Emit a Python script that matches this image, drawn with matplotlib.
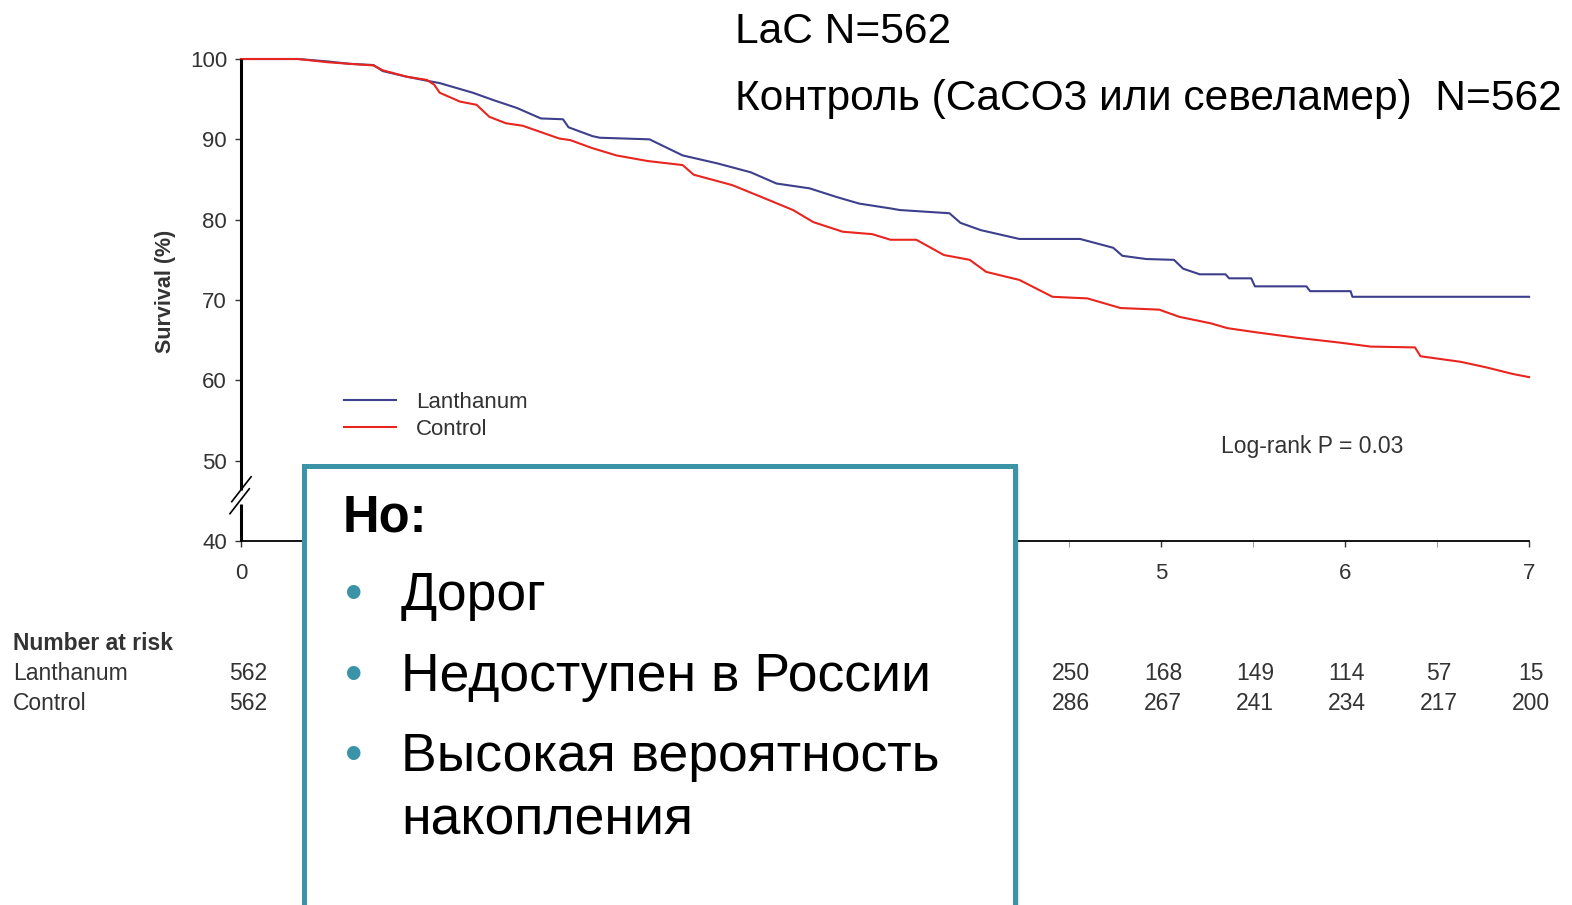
import matplotlib
matplotlib.use("Agg")
import matplotlib.pyplot as plt
from matplotlib.patches import Rectangle
from matplotlib.transforms import blended_transform_factory

plt.rcParams['font.family'] = ['Liberation Sans', 'DejaVu Sans']

# Kaplan-Meier curves (years, survival %)
lan_t = [0, 0.31, 0.47, 0.59, 0.72, 0.77, 0.90, 1.01, 1.08, 1.26, 1.37, 1.50, 1.63, 1.75,
         1.78, 1.91, 1.95, 2.22, 2.40, 2.59, 2.77, 2.91, 3.09, 3.24, 3.36, 3.53, 3.58, 3.85,
         3.91, 4.02, 4.23, 4.56, 4.74, 4.79, 4.92, 5.07, 5.12, 5.21, 5.35, 5.37, 5.49, 5.51,
         5.79, 5.81, 6.03, 6.04, 7.0]
lan_s = [100, 100, 99.7, 99.4, 99.25, 98.5, 97.8, 97.3, 97.0, 95.8, 94.9, 93.9, 92.6, 92.5,
         91.5, 90.4, 90.2, 90.0, 88.0, 87.0, 85.9, 84.5, 83.9, 82.8, 82.0, 81.4, 81.2, 80.8,
         79.6, 78.7, 77.6, 77.6, 76.5, 75.5, 75.1, 75.0, 73.9, 73.2, 73.2, 72.7, 72.7, 71.7,
         71.7, 71.1, 71.1, 70.4, 70.4]

ctl_t = [0, 0.31, 0.47, 0.59, 0.72, 0.77, 0.90, 1.01, 1.05, 1.08, 1.19, 1.28, 1.35, 1.44,
         1.53, 1.63, 1.73, 1.79, 1.91, 2.04, 2.21, 2.40, 2.46, 2.67, 2.82, 3.00, 3.11, 3.27,
         3.43, 3.53, 3.67, 3.82, 3.96, 4.05, 4.23, 4.41, 4.60, 4.78, 4.99, 5.10, 5.27, 5.36,
         5.51, 5.74, 5.97, 6.14, 6.38, 6.41, 6.63, 6.77, 6.91, 7.0]
ctl_s = [100, 100, 99.6, 99.4, 99.2, 98.6, 97.8, 97.4, 96.8, 95.8, 94.7, 94.3, 92.8, 92.0,
         91.7, 90.9, 90.1, 89.9, 88.9, 88.0, 87.3, 86.8, 85.6, 84.3, 82.9, 81.2, 79.7, 78.5,
         78.2, 77.5, 77.5, 75.6, 75.0, 73.5, 72.5, 70.4, 70.2, 69.0, 68.8, 67.9, 67.1, 66.5,
         66.0, 65.3, 64.7, 64.2, 64.1, 63.0, 62.3, 61.6, 60.8, 60.4]

# number at risk (only the columns not hidden by the box)
risk_t = [0, 4.5, 5, 5.5, 6, 6.5, 7]
risk_lan = [562, 250, 168, 149, 114, 57, 15]
risk_ctl = [562, 286, 267, 241, 234, 217, 200]

y_ticks = [40, 50, 60, 70, 80, 90, 100]
x_ticks = [0, 1, 2, 3, 4, 5, 6, 7]
# labels 1-4 sit under the callout box in the reference
x_labels = ["0", "", "", "", "", "5", "6", "7"]

box_title = "Но:"
box_items = ["Дорог", "Недоступен в России", "Высокая вероятность\nнакопления"]

blue = "#3d3f8c"
red = "#e8251f"
teal = "#3b93a7"
grey = "#333333"

fig = plt.figure(figsize=(15.72, 9.05), dpi=100)
ax = fig.add_axes([0.1533, 0.4022, 0.8194, 0.5326])

ax.plot(lan_t, lan_s, color=blue, lw=1.5, clip_on=False, label="Lanthanum")
ax.plot(ctl_t, ctl_s, color=red, lw=1.5, clip_on=False, label="Control")

ax.set_xlim(0, 7)
ax.set_ylim(40, 100)
ax.set_xticks(x_ticks)
ax.set_xticklabels(x_labels)
ax.set_xticks([x + 0.5 for x in x_ticks[:-1]], minor=True)
ax.set_yticks(y_ticks)
ax.tick_params(axis="both", labelsize=16, labelcolor=grey, color=grey, length=4, width=1)
ax.tick_params(axis="x", which="minor", length=4, color="#888888")
ax.tick_params(axis="x", pad=12)
ax.tick_params(axis="y", pad=6)

for s in ["top", "right", "left"]:
    ax.spines[s].set_visible(False)
ax.spines["bottom"].set_linewidth(1.3)

# left axis drawn by hand with a break
ax.plot([0, 0], [40, 44.6], color="black", lw=2.2, clip_on=False, solid_capstyle="butt")
ax.plot([0, 0], [46.4, 100], color="black", lw=2.2, clip_on=False, solid_capstyle="butt")
ax.plot([-0.05, 0.055], [44.9, 48.0], color="black", lw=1.2, clip_on=False)
ax.plot([-0.06, 0.045], [43.4, 46.5], color="black", lw=1.2, clip_on=False)

ax.set_ylabel("Survival (%)", fontsize=15.5, fontweight="bold", color=grey)
ax.yaxis.set_label_coords(-0.0505, 0.517)

ax.legend(loc="upper left", bbox_to_anchor=(0.071, 0.333), frameon=False, fontsize=16,
          handlelength=2.35, handletextpad=0.9, labelspacing=0.28, borderpad=0,
          labelcolor=grey)

ax.text(5.82, 51.8, "Log-rank P = 0.03", fontsize=16.5, color=grey, ha="center", va="center")

# number at risk table
tr = blended_transform_factory(ax.transData, fig.transFigure)
fig.text(0.0083, 0.2884, "Number at risk", fontsize=16.5, fontweight="bold", color=grey, va="center")
fig.text(0.0083, 0.2553, "Lanthanum", fontsize=16.5, color=grey, va="center")
fig.text(0.0083, 0.2232, "Control", fontsize=16.5, color=grey, va="center")
for t, a, b in zip(risk_t, risk_lan, risk_ctl):
    dx = 0.04 if t == 0 else 0.01
    ax.text(t + dx, 0.2553, str(a), transform=tr, fontsize=16.5,
            color=grey, ha="center", va="center", clip_on=False)
    ax.text(t + dx, 0.2232, str(b), transform=tr, fontsize=16.5,
            color=grey, ha="center", va="center", clip_on=False)

# headline text at top right
fig.text(0.4676, 0.9646, "LaC N=562", fontsize=30.6, color="black", va="center")
fig.text(0.4676, 0.8906, "Контроль (CaCO3 или севеламер)  N=562", fontsize=30.6,
         color="black", va="center")

# callout box with shadow
bx0, bx1, by1 = 304 / 1572, 1015 / 1572, 1 - 466 / 905
for i, al in enumerate([0.10, 0.08, 0.06, 0.04]):
    off = (i + 2) / 1572
    fig.add_artist(Rectangle((bx0 + off, -0.1), bx1 - bx0, by1 + 0.1 - off * 0.4,
                             transform=fig.transFigure, facecolor="black", alpha=al,
                             edgecolor="none", zorder=4))
fig.add_artist(Rectangle((bx0, -0.1), bx1 - bx0, by1 + 0.1, transform=fig.transFigure,
                         facecolor="white", edgecolor=teal, linewidth=3.6, zorder=5))

fig.text(343 / 1572, 1 - 532 / 905, box_title, fontsize=36.5, fontweight="bold",
         va="baseline", zorder=6)
base_y = [610, 691, 771]
for item, y in zip(box_items, base_y):
    fig.text(354 / 1572, 1 - (y - 14) / 905, "•", fontsize=36, color=teal,
             ha="center", va="center", zorder=6)
    for k, line in enumerate(item.split("\n")):
        fig.text(401 / 1572, 1 - (y + 63 * k) / 905, line, fontsize=38.5,
                 va="baseline", zorder=6)

fig.savefig("out.png", dpi=100)
